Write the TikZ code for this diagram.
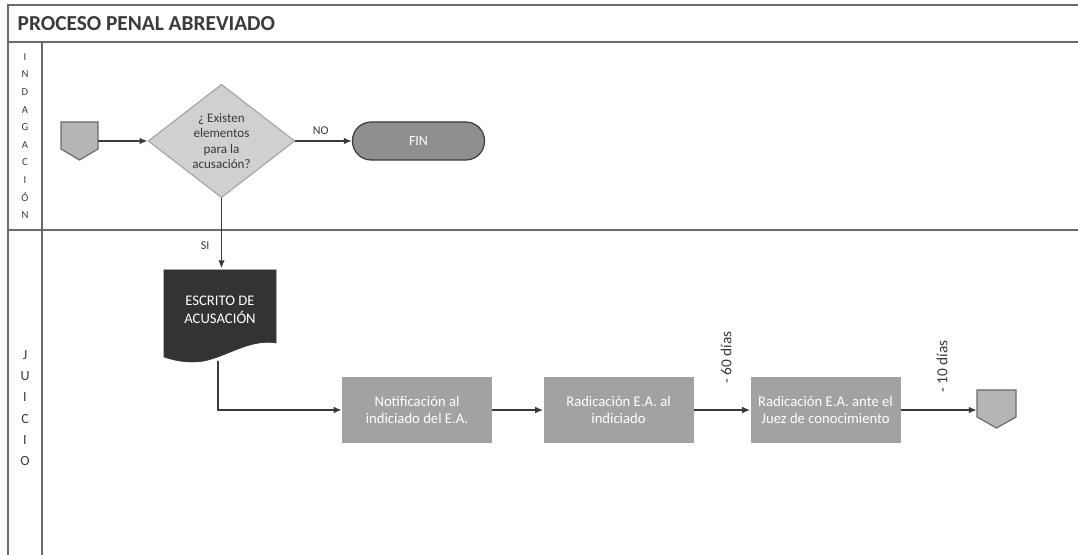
\documentclass[tikz,border=0pt]{standalone}
\usepackage{fontspec}
\setmainfont{Carlito}
\usetikzlibrary{shapes.geometric,arrows.meta}
\definecolor{boxgray}{HTML}{A2A2A2}
\definecolor{diagray}{HTML}{D0D0D0}
\definecolor{docdark}{HTML}{333333}
\definecolor{linegray}{HTML}{6A6A6A}
\definecolor{txtgray}{HTML}{3A3A3A}
\tikzset{
  frame/.style={draw=linegray, line width=0.9pt},
  proc/.style={rectangle, fill=boxgray, minimum width=112.5pt, minimum height=50pt, text=white, align=center, font=\fontsize{11}{13}\selectfont, inner sep=2pt},
  flow/.style={draw=txtgray, line width=1.4pt, -{Latex[length=6pt,width=5pt]}},
  lbl/.style={font=\fontsize{9}{11}\selectfont, text=txtgray},
  dlbl/.style={font=\fontsize{11.5}{13}\selectfont, text=txtgray, rotate=90, anchor=west, inner sep=1pt},
  lane/.style={font=\fontsize{8}{13.2}\selectfont, text=txtgray, align=center},
  conn/.style={fill=boxgray!80, draw=linegray, line width=0.9pt},
}
\begin{document}
\begin{tikzpicture}[x=0.75pt,y=-0.75pt]
\useasboundingbox (0,0) rectangle (1078,555);
\fill[white] (0,0) rectangle (1078,555);
% frame
\draw[frame] (1078,5) -- (8,5) -- (8,555);
\draw[frame] (8,42) -- (1078,42);
\draw[frame] (8,230) -- (1078,230);
\draw[frame] (42,42) -- (42,555);
\node[anchor=west, font=\bfseries\fontsize{16}{19}\selectfont, text=txtgray] (title) at (13,24) {PROCESO PENAL ABREVIADO};
\node[lane] (l1) at (25,136) {I\\N\\D\\A\\G\\A\\C\\I\\Ó\\N};
\node[lane, font=\fontsize{10.5}{16}\selectfont] (l2) at (25,408) {J\\U\\I\\C\\I\\O};
% start connector
\draw[conn] (61,122) -- (98,122) -- (98,149) -- (79.5,160) -- (61,149) -- cycle;
\node[minimum width=28pt, minimum height=28pt, inner sep=0pt] (start) at (79.5,141) {};
% decision
\node[diamond, fill=diagray, draw=boxgray, line width=0.8pt, minimum width=110pt, minimum height=81pt, inner sep=0pt, align=center, text=txtgray, font=\fontsize{9.8}{11.5}\selectfont] (dec) at (221.5,141) {¿ Existen\\elementos\\para la\\acusación?};
% FIN
\node[rectangle, rounded corners=14pt, fill=boxgray!88!black, draw=txtgray, line width=0.9pt, minimum width=99pt, minimum height=28.5pt, text=white, font=\fontsize{10.5}{12}\selectfont] (fin) at (418.5,141) {FIN};
% document
\draw[fill=docdark, draw=docdark] (164,270) -- (276,270) -- (276,343) .. controls (245,338) and (220,363) .. (192,362) .. controls (180,362) and (170,359) .. (164,357) -- cycle;
\node[minimum width=84pt, minimum height=68pt, inner sep=0pt] (doc) at (220,314) {};
\node[text=white, align=center, font=\fontsize{11}{13.5}\selectfont] (doctxt) at (220,310) {ESCRITO DE\\ACUSACIÓN};
\coordinate (docb) at (218,361);
% processes
\node[proc] (p1) at (417,410) {Notificación al\\indiciado del E.A.};
\node[proc] (p2) at (618.5,410) {Radicación E.A. al\\indiciado};
\node[proc] (p3) at (825.5,410) {Radicación E.A. ante el\\Juez de conocimiento};
% end connector
\draw[conn] (977,390) -- (1016,390) -- (1016,417) -- (996.5,428) -- (977,417) -- cycle;
\node[minimum width=29pt, minimum height=28pt, inner sep=0pt] (endc) at (996.5,410) {};
% labels
\node[dlbl] (d60) at (726,385) {- 60 días};
\node[dlbl] (d10) at (942,394) {- 10 días};
% connectors
\draw[flow] (start.east) -- (dec.west);
\draw[flow] (dec.east) -- node[lbl, above=1pt, pos=0.45] (no) {NO} (fin.west);
\draw[flow] (dec.south) -- node[lbl, left=5pt, pos=0.67] (si) {SI} (doc.north -| dec.south);
\draw[flow] (docb) |- (p1.west);
\draw[flow] (p1.east) -- (p2.west);
\draw[flow] (p2.east) -- (p3.west);
\draw[flow] (p3.east) -- (endc.west);
\end{tikzpicture}
\end{document}
